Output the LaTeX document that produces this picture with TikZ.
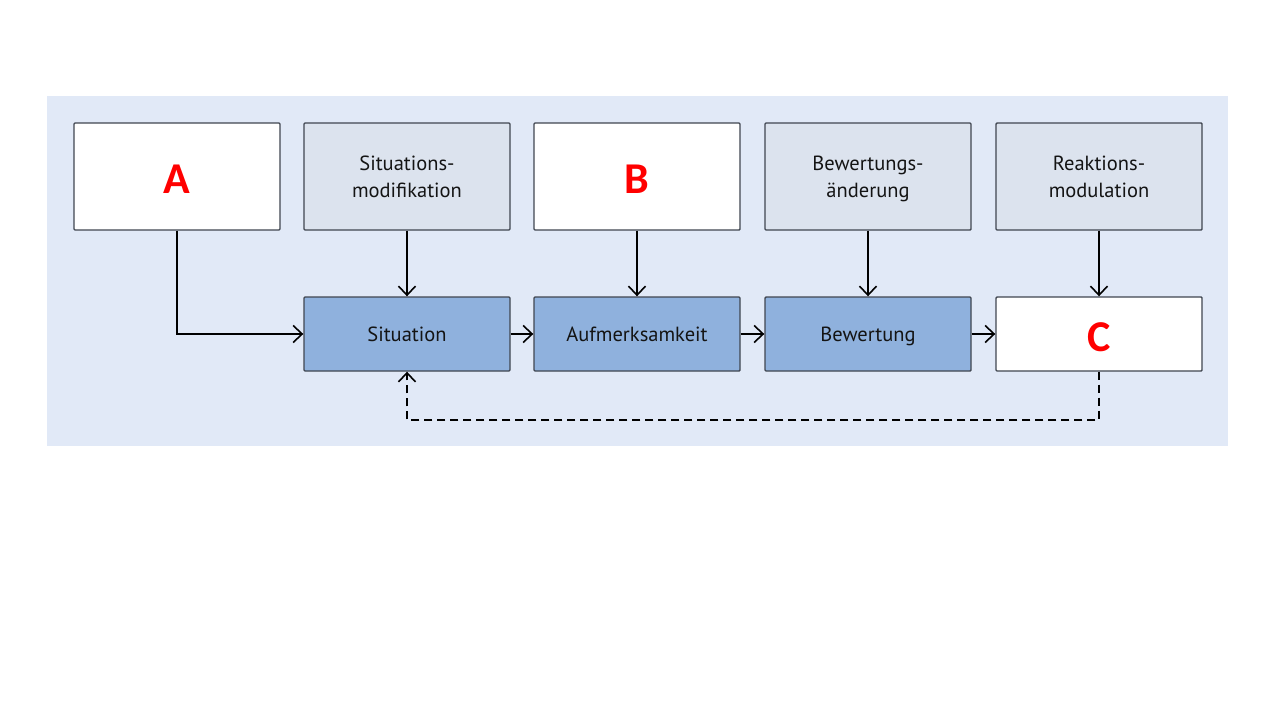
\documentclass[tikz,border=0pt]{standalone}
\usepackage{fontspec}
\setmainfont{PT Sans}
\newfontfamily\letterfont{Carlito}
\usetikzlibrary{arrows.meta}
\newcommand\boxstrut{\rule[-6pt]{0pt}{26pt}}
\definecolor{panel}{HTML}{E1E9F7}
\definecolor{grayfill}{HTML}{DCE3EE}
\definecolor{bluefill}{HTML}{8FB1DD}
\definecolor{edge}{HTML}{404650}
\tikzset{
  box/.style={draw=edge, line width=1.4pt, rounded corners=1pt, minimum width=206pt, minimum height=107pt, inner sep=0pt, align=center, font=\fontsize{20.5}{24}\selectfont, text=black!92},
  topgray/.style={box, fill=grayfill},
  topwhite/.style={box, fill=white},
  lowblue/.style={box, fill=bluefill, minimum height=74pt},
  lowwhite/.style={box, fill=white, minimum height=74pt},
  letter/.style={font=\letterfont\bfseries\fontsize{44}{44}\selectfont, text=red},
  conn/.style={line width=1.6pt, -{Straight Barb[length=9pt,width=17pt,line width=1.6pt]}},
}
\begin{document}
\begin{tikzpicture}[x=1pt,y=-1pt]
\useasboundingbox (0,0) rectangle (1280,720);
\fill[white] (0,0) rectangle (1280,720);
\fill[panel] (47,96) rectangle (1228,446);
% top row
\node[topwhite] (A) at (177,176.5) {};
\node[letter] at ([yshift=-3pt]A.center) {A};
\node[topgray] (sm) at (407,176.5) {\boxstrut Situations-\\\boxstrut modifikation};
\node[topwhite] (B) at (637,176.5) {};
\node[letter] at ([yshift=-3pt]B.center) {B};
\node[topgray] (ba) at (868,176.5) {\boxstrut Bewertungs-\\\boxstrut änderung};
\node[topgray] (rm) at (1099,176.5) {\boxstrut Reaktions-\\\boxstrut modulation};
% bottom row
\node[lowblue] (sit) at (407,334) {\boxstrut Situation};
\node[lowblue] (auf) at (637,334) {\boxstrut Aufmerksamkeit};
\node[lowblue] (bew) at (868,334) {\boxstrut Bewertung};
\node[lowwhite] (C) at (1099,334) {};
\node[letter] at ([yshift=-3pt]C.center) {C};
% connectors
\draw[conn] (A.south) |- (sit.west);
\draw[conn] (sm.south) -- (sit.north);
\draw[conn] (B.south) -- (auf.north);
\draw[conn] (ba.south) -- (bew.north);
\draw[conn] (rm.south) -- (C.north);
\draw[conn] (sit.east) -- (auf.west);
\draw[conn] (auf.east) -- (bew.west);
\draw[conn] (bew.east) -- (C.west);
\coordinate (dr) at (1099,420);
\coordinate (dl) at (407,420);
\draw[conn, dashed, dash pattern=on 8pt off 5pt] (C.south) -- (dr) -- (dl) -- (sit.south);
\end{tikzpicture}
\end{document}
